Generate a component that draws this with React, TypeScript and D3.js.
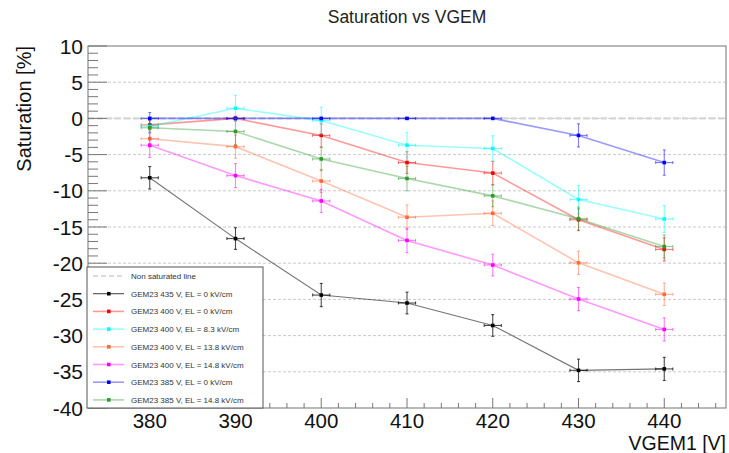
import * as d3 from 'd3'
import React from 'react'

// VGEM1 points (V)
const voltages = [380, 390, 400, 410, 420, 430, 440]
const xErr = 1

const legendLabels = [
    'GEM23 435 V, EL = 0 kV/cm',
    'GEM23 400 V, EL = 0 kV/cm',
    'GEM23 400 V, EL = 8.3 kV/cm',
    'GEM23 400 V, EL = 13.8 kV/cm',
    'GEM23 400 V, EL = 14.8 kV/cm',
    'GEM23 385 V, EL = 0 kV/cm',
    'GEM23 385 V, EL = 14.8 kV/cm',
]
const seriesColors = ['#000000', '#ff0000', '#00ffff', '#ff6a3d', '#ff00ff', '#0000ff', '#2e9a2e']

// saturation values [%]
const sat435El0 = [-8.2, -16.6, -24.4, -25.5, -28.6, -34.8, -34.6]
const sat400El0 = [-0.9, 0.0, -2.35, -6.1, -7.55, -14.0, -18.1]
const sat400El83 = [-1.1, 1.4, -0.3, -3.7, -4.15, -11.2, -13.9]
const sat400El138 = [-2.8, -3.9, -8.65, -13.65, -13.1, -19.95, -24.3]
const sat400El148 = [-3.7, -7.9, -11.4, -16.85, -20.25, -24.95, -29.15]
const sat385El0 = [0, 0, 0, 0, 0, -2.35, -6.1]
const sat385El148 = [-1.3, -1.8, -5.6, -8.3, -10.7, -13.85, -17.7]

// y errors [%]
const err435El0 = [1.55, 1.5, 1.6, 1.5, 1.5, 1.55, 1.6]
const err400El0 = [0.6, 0.3, 1.6, 1.5, 1.6, 1.5, 1.6]
const err400El83 = [0.9, 1.8, 1.85, 1.75, 1.75, 1.95, 1.85]
const err400El138 = [1.2, 1.6, 1.6, 1.7, 1.7, 1.6, 1.55]
const err400El148 = [1.7, 1.65, 1.6, 1.7, 1.5, 1.6, 1.6]
const err385El0 = [0.8, 0.1, 0.1, 0.1, 0.1, 1.6, 1.75]
const err385El148 = [0.6, 1.8, 1.6, 1.7, 1.5, 1.6, 1.6]

const allValues = [sat435El0, sat400El0, sat400El83, sat400El138, sat400El148, sat385El0, sat385El148]
const allErrors = [err435El0, err400El0, err400El83, err400El138, err400El148, err385El0, err385El148]

const yMajorTicks = [-40, -35, -30, -25, -20, -15, -10, -5, 0, 5, 10]
const xMajorTicks = [380, 390, 400, 410, 420, 430, 440]

const W = 729
const H = 453
const frame = { left: 88, right: 726, top: 46, bottom: 408 }
const font = '"Liberation Sans", Arial, Helvetica, sans-serif'

export default function App() {
    const x = d3.scaleLinear().domain([372.8, 447.2]).range([frame.left, frame.right])
    const y = d3.scaleLinear().domain([-40, 10]).range([frame.bottom, frame.top])

    const xMinor = d3.range(374, 447.2, 2).filter((v) => v % 10 !== 0)
    const yMinor = d3.range(-40, 10.01, 1).filter((v) => v % 5 !== 0)

    const line = d3
        .line<number>()
        .x((_, i) => x(voltages[i]))
        .y((d) => y(d))

    const series = allValues.map((vals, s) => ({
        vals,
        errs: allErrors[s],
        color: seriesColors[s],
        label: legendLabels[s],
    }))

    // legend geometry
    const lg = { x0: 87, y0: 267, x1: 263, y1: 408 }
    const rowY = (i: number) => lg.y0 + 9 + i * 17.7

    return (
        <svg
            width={W}
            height={H}
            style={{ position: 'absolute', left: 0, top: 0, background: '#fff' }}
            fontFamily={font}
        >
            <rect x={0} y={0} width={W} height={H} fill="#fff" />
            <text x={(frame.left + frame.right) / 2} y={23} textAnchor="middle" fontSize={17.5} fill="#222">
                Saturation vs VGEM
            </text>

            {/* grid */}
            {yMajorTicks
                .filter((v) => v > -40 && v < 10)
                .map((v) => (
                    <line
                        key={'g' + v}
                        x1={frame.left}
                        x2={frame.right}
                        y1={y(v)}
                        y2={y(v)}
                        stroke="#c4c4c4"
                        strokeWidth={0.9}
                        strokeDasharray="3,2"
                    />
                ))}
            {/* non saturated line */}
            <line x1={frame.left} x2={frame.right} y1={y(0)} y2={y(0)} stroke="#d6d6d6" strokeWidth={2.2} strokeDasharray="6,3" />

            {/* series */}
            {series.map((s, si) => (
                <g key={'s' + si}>
                    <path
                        d={line(s.vals) || ''}
                        fill="none"
                        stroke={s.color}
                        strokeOpacity={si === 0 ? 0.55 : 0.4}
                        strokeWidth={si === 0 ? 1.1 : 1.6}
                    />
                    {s.vals.map((v, i) => {
                        const cx = x(voltages[i])
                        const cy = y(v)
                        const yt = y(v + s.errs[i])
                        const yb = y(v - s.errs[i])
                        const xl = x(voltages[i] - xErr)
                        const xr = x(voltages[i] + xErr)
                        return (
                            <g key={i} stroke={s.color} strokeOpacity={si === 0 ? 0.7 : 0.5} strokeWidth={1.1}>
                                <line x1={cx} x2={cx} y1={yt} y2={yb} />
                                <line x1={xl} x2={xr} y1={cy} y2={cy} />
                                <line x1={cx - 1.5} x2={cx + 1.5} y1={yt} y2={yt} />
                                <line x1={cx - 1.5} x2={cx + 1.5} y1={yb} y2={yb} />
                                <line x1={xl} x2={xl} y1={cy - 1.5} y2={cy + 1.5} />
                                <line x1={xr} x2={xr} y1={cy - 1.5} y2={cy + 1.5} />
                                <rect x={cx - 1.8} y={cy - 1.8} width={3.6} height={3.6} fill={s.color} stroke="none" />
                            </g>
                        )
                    })}
                </g>
            ))}

            {/* frame */}
            <rect
                x={frame.left}
                y={frame.top}
                width={frame.right - frame.left}
                height={frame.bottom - frame.top}
                fill="none"
                stroke="#8a8a8a"
                strokeWidth={1.2}
            />

            {/* y axis */}
            {yMajorTicks.map((v) => (
                <g key={'y' + v}>
                    <line x1={frame.left} x2={frame.left + 19} y1={y(v)} y2={y(v)} stroke="#777" />
                    <text x={83} y={y(v) + 7.5} textAnchor="end" fontSize={21} fill="#111">
                        {v}
                    </text>
                </g>
            ))}
            {yMinor.map((v) => (
                <line key={'ym' + v} x1={frame.left} x2={frame.left + 10} y1={y(v)} y2={y(v)} stroke="#777" />
            ))}
            <text
                transform={`translate(31,${frame.top}) rotate(-90)`}
                textAnchor="end"
                fontSize={20}
                fill="#111"
            >
                Saturation [%]
            </text>

            {/* x axis */}
            {xMajorTicks.map((v) => (
                <g key={'x' + v}>
                    <line x1={x(v)} x2={x(v)} y1={frame.bottom} y2={frame.bottom - 10} stroke="#777" />
                    <text x={x(v)} y={428} textAnchor="middle" fontSize={20.5} fill="#111">
                        {v}
                    </text>
                </g>
            ))}
            {xMinor.map((v) => (
                <line key={'xm' + v} x1={x(v)} x2={x(v)} y1={frame.bottom} y2={frame.bottom - 5} stroke="#777" />
            ))}
            <text x={frame.right} y={450} textAnchor="end" fontSize={19.5} fill="#111">
                VGEM1 [V]
            </text>

            {/* legend */}
            <rect
                x={lg.x0}
                y={lg.y0}
                width={lg.x1 - lg.x0}
                height={lg.y1 - lg.y0}
                fill="#fff"
                stroke="#555"
                strokeWidth={1}
            />
            <line x1={93} x2={124} y1={rowY(0)} y2={rowY(0)} stroke="#cfcfcf" strokeWidth={1.5} strokeDasharray="5,3" />
            <text x={131} y={rowY(0) + 3} fontSize={8} fill="#333">
                Non saturated line
            </text>
            {series.map((s, i) => (
                <g key={'l' + i}>
                    <line
                        x1={93}
                        x2={124}
                        y1={rowY(i + 1)}
                        y2={rowY(i + 1)}
                        stroke={s.color}
                        strokeOpacity={i === 0 ? 0.7 : 0.4}
                        strokeWidth={i === 0 ? 1.1 : 1.6}
                    />
                    <rect x={107} y={rowY(i + 1) - 1.8} width={3.6} height={3.6} fill={s.color} />
                    <text x={131} y={rowY(i + 1) + 3} fontSize={8} fill="#333">
                        {s.label}
                    </text>
                </g>
            ))}
        </svg>
    )
}
